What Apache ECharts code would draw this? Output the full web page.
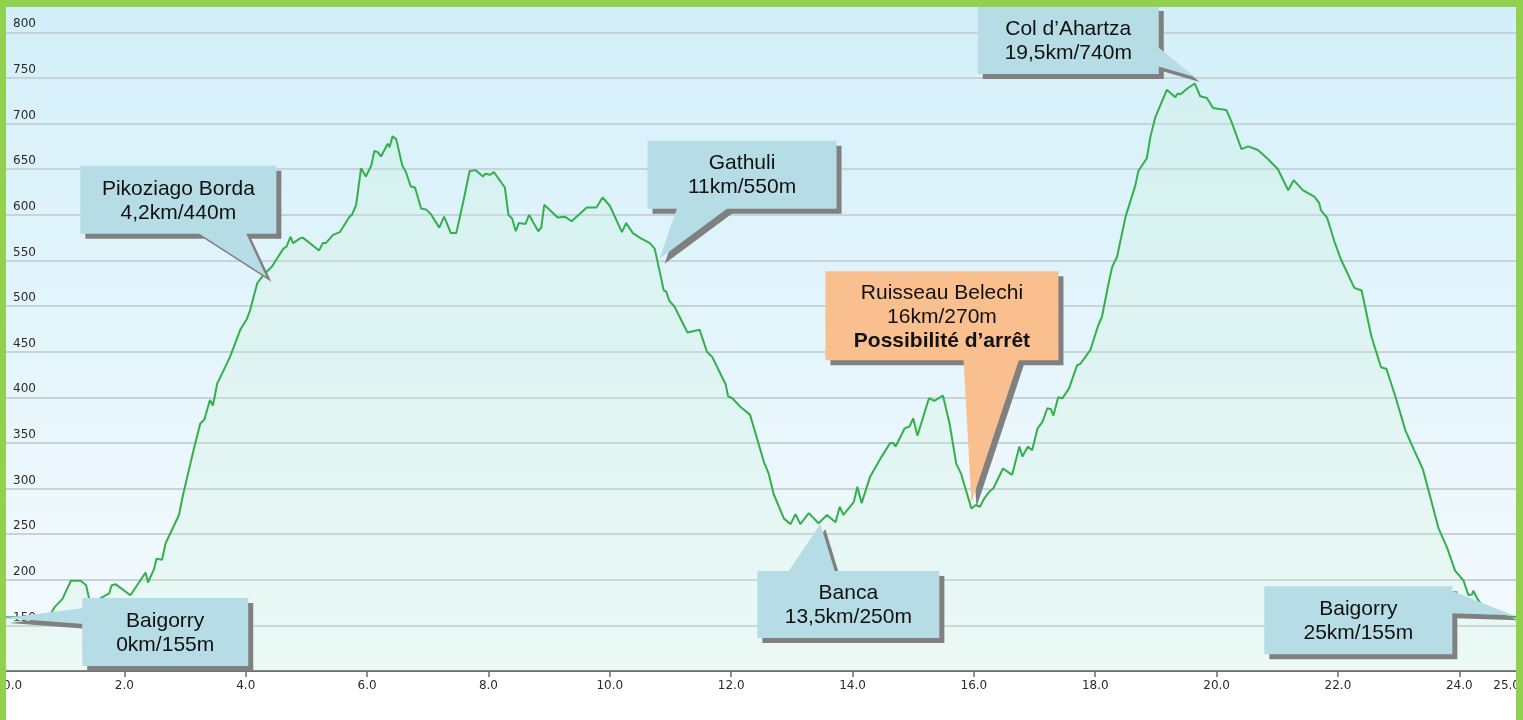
<!DOCTYPE html>
<html>
<head>
<meta charset="utf-8">
<title>Profil altimétrique</title>
<script src="https://cdn.jsdelivr.net/npm/echarts@6/dist/echarts.min.js"></script>
<style>
  html, body { margin: 0; padding: 0; background: #fff; }
  #profil { width: 1523px; height: 720px; }
</style>
</head>
<body>
<div id="profil"></div>
<script>
var distances = [0, 0.63, 0.79, 0.85, 0.98, 1.12, 1.28, 1.37, 1.42, 1.51, 1.61, 1.75, 1.79, 1.86, 2.10, 2.35, 2.39, 2.49, 2.53, 2.62,
  2.68, 2.90, 2.97, 3.14, 3.25, 3.32, 3.41, 3.46, 3.53, 3.74, 3.91, 4.02, 4.07, 4.19, 4.29, 4.43, 4.62, 4.67, 4.74, 4.78,
  4.89, 4.94, 5.21, 5.27, 5.32, 5.44, 5.55, 5.71, 5.75, 5.82, 5.90, 5.98, 6.07, 6.12, 6.17, 6.23, 6.34, 6.37, 6.42, 6.48,
  6.58, 6.64, 6.72, 6.79, 6.89, 6.97, 7.05, 7.19, 7.22, 7.27, 7.38, 7.47, 7.59, 7.69, 7.79, 7.91, 7.95, 8.03, 8.09, 8.27,
  8.33, 8.39, 8.45, 8.50, 8.61, 8.67, 8.82, 8.87, 8.92, 9.14, 9.26, 9.37, 9.62, 9.78, 9.88, 10.00, 10.20, 10.27, 10.38, 10.52,
  10.66, 10.74, 10.89, 10.93, 10.98, 11.07, 11.28, 11.48, 11.60, 11.69, 11.91, 11.95, 12.02, 12.16, 12.31, 12.43, 12.54, 12.62, 12.70, 12.87,
  12.98, 13.06, 13.14, 13.28, 13.44, 13.58, 13.72, 13.79, 13.85, 14.02, 14.08, 14.15, 14.29, 14.48, 14.62, 14.67, 14.71, 14.86, 14.94, 15.00,
  15.07, 15.26, 15.35, 15.49, 15.60, 15.71, 15.79, 15.96, 16.03, 16.10, 16.17, 16.26, 16.32, 16.48, 16.63, 16.75, 16.80, 16.89, 16.96, 17.05,
  17.13, 17.21, 17.27, 17.31, 17.39, 17.46, 17.57, 17.70, 17.76, 17.92, 18.05, 18.11, 18.22, 18.28, 18.36, 18.50, 18.66, 18.71, 18.85, 18.91,
  18.99, 19.18, 19.32, 19.36, 19.40, 19.53, 19.64, 19.73, 19.84, 19.94, 20.16, 20.24, 20.41, 20.52, 20.68, 20.85, 21.01, 21.18, 21.27, 21.42,
  21.61, 21.69, 21.72, 21.82, 21.94, 22.05, 22.27, 22.39, 22.55, 22.71, 22.80, 22.95, 23.11, 23.25, 23.40, 23.52, 23.66, 23.80, 23.93, 24.07,
  24.15, 24.21, 24.23, 24.30, 24.37, 24.51, 24.78, 25.00];
var altitudes = [159, 159, 163, 170, 179, 199, 199, 194, 179, 176, 180, 185, 194, 195, 183, 208, 197, 212, 223, 222,
  240, 271, 294, 342, 371, 376, 397, 391, 415, 444, 474, 486, 495, 525, 534, 543, 563, 565, 576, 569,
  574, 575, 561, 569, 569, 578, 581, 598, 600, 611, 651, 642, 654, 670, 669, 664, 678, 674, 686, 683,
  654, 647, 631, 630, 607, 606, 601, 586, 584, 598, 580, 580, 616, 648, 649, 642, 645, 644, 647, 630,
  600, 596, 582, 591, 590, 600, 582, 586, 611, 597, 598, 593, 608, 608, 619, 610, 581, 591, 580, 574,
  569, 563, 517, 516, 506, 499, 471, 474, 450, 444, 414, 401, 399, 389, 381, 354, 329, 316, 294, 267,
  261, 272, 261, 273, 262, 271, 263, 280, 271, 285, 302, 284, 313, 335, 350, 350, 346, 366, 368, 377,
  358, 399, 396, 402, 371, 327, 316, 278, 282, 280, 289, 297, 300, 322, 315, 346, 335, 346, 342, 366,
  373, 388, 387, 380, 400, 399, 410, 435, 437, 452, 479, 488, 525, 543, 554, 598, 632, 648, 662, 686,
  707, 737, 729, 733, 732, 739, 744, 730, 728, 717, 715, 703, 672, 675, 671, 661, 650, 627, 638, 627,
  620, 613, 605, 597, 571, 551, 520, 517, 467, 433, 431, 400, 364, 343, 321, 291, 256, 235, 210, 199,
  183, 184, 188, 179, 172, 165, 160, 159];

// étiquettes des étapes et point visé sur la courbe
var etapeTextes = [
  'Baigorry\n0km/155m',
  'Pikoziago Borda\n4,2km/440m',
  'Gathuli\n11km/550m',
  'Banca\n13,5km/250m',
  'Ruisseau Belechi\n16km/270m\n{g|Possibilité d’arrêt}',
  'Col d’Ahartza\n19,5km/740m',
  'Baigorry\n25km/155m'
];
var etapeKm = [0.02, 4.34, 10.82, 13.47, 15.96, 19.64, 24.89];
var etapeAlt = [158, 532, 552, 261, 285, 751, 161];

// bulles : boite [dx, dy, w, h] et base de la pointe, relatives au point visé (px)
var bulles = [
  { box: [78, -20, 166, 68], base: [[80, -10], [80, 6]], couleur: '#b6dce6' },
  { box: [-186, -111, 196, 68], base: [[-70, -45], [-21, -45]], couleur: '#b6dce6' },
  { box: [-12, -118, 189, 68], base: [[18, -52], [70, -52]], couleur: '#b6dce6' },
  { box: [-63, 47, 182, 67], base: [[-33, 49], [15, 49]], couleur: '#b6dce6' },
  { box: [-146, -231, 233, 89], base: [[-8, -144], [48, -144]], couleur: '#f9bf8f' },
  { box: [-217, -71, 181, 68], base: [[-38, -31], [-38, -11]], couleur: '#b6dce6' },
  { box: [-249, -29, 188, 68], base: [[-63, -25], [-63, -2]], couleur: '#b6dce6' }
];

var ombre = 5;
var police = '"Liberation Sans", Arial, sans-serif';

function renderBulle(params, api) {
  var b = bulles[params.dataIndex];
  var p = api.coord([api.value(0), api.value(1)]);
  var bx = p[0] + b.box[0], by = p[1] + b.box[1];
  var pts = [
    [p[0] + b.base[0][0], p[1] + b.base[0][1]],
    [p[0] + b.base[1][0], p[1] + b.base[1][1]],
    [p[0], p[1]]
  ];
  var ptsOmbre = pts.map(function (q) { return [q[0] + ombre, q[1] + ombre]; });
  return {
    type: 'group',
    children: [
      { type: 'rect', shape: { x: bx + ombre, y: by + ombre, width: b.box[2], height: b.box[3] }, style: { fill: '#808080' } },
      { type: 'polygon', shape: { points: ptsOmbre }, style: { fill: '#808080' } },
      { type: 'polygon', shape: { points: pts }, style: { fill: b.couleur } },
      { type: 'rect', shape: { x: bx, y: by, width: b.box[2], height: b.box[3] }, style: { fill: b.couleur } },
      {
        type: 'text',
        style: {
          text: etapeTextes[params.dataIndex],
          x: bx + b.box[2] / 2,
          y: by + b.box[3] / 2 + 1,
          align: 'center',
          verticalAlign: 'middle',
          fontSize: 21,
          fontFamily: police,
          lineHeight: 24,
          fill: '#111',
          rich: {
            g: { fontSize: 21, fontFamily: police, fontWeight: 'bold', lineHeight: 24, fill: '#111' }
          }
        }
      }
    ]
  };
}

var chart = echarts.init(document.getElementById('profil'));

chart.setOption({
  animation: false,
  backgroundColor: '#fff',
  grid: {
    left: 2,
    width: 1525,   // 25 km finit sous le cadre droit
    top: 5,
    bottom: 49,
    show: true,
    borderWidth: 0,
    backgroundColor: {
      type: 'linear', x: 0, y: 0, x2: 0, y2: 1,
      colorStops: [{ offset: 0, color: '#d3eff9' }, { offset: 1, color: '#f6fbff' }]
    }
  },
  xAxis: {
    type: 'value',
    min: 0,
    max: 25,
    interval: 2,
    axisLine: { show: true, lineStyle: { color: '#6e6e6e', width: 2 } },
    axisTick: { show: true, length: 6, lineStyle: { color: '#6e6e6e', width: 1.5 } },
    splitLine: { show: false },
    axisLabel: {
      margin: 9,
      color: '#2a2a2a',
      fontSize: 12,
      fontFamily: '"DejaVu Sans", Verdana, sans-serif',
      alignMinLabel: 'left',
      alignMaxLabel: 'right',
      formatter: function (v) { return v.toFixed(1); }
    }
  },
  yAxis: {
    type: 'value',
    min: 100,
    max: 830,
    interval: 50,
    axisLine: { show: false },
    axisTick: { show: false },
    splitLine: { show: true, lineStyle: { color: '#c6d4da', width: 2 } },
    axisLabel: {
      inside: true,
      margin: 10,
      align: 'left',
      verticalAlign: 'bottom',
      padding: [0, 0, 2, 0],
      color: '#2a2a2a',
      fontSize: 12,
      fontFamily: '"DejaVu Sans", Verdana, sans-serif',
      showMinLabel: false,
      showMaxLabel: false
    }
  },
  series: [
    {
      type: 'line',
      data: distances.map(function (d, i) { return [d, altitudes[i]]; }),
      showSymbol: false,
      lineStyle: { color: '#33b04b', width: 2 },
      areaStyle: { color: 'rgba(200, 240, 210, 0.3)' },
      z: 2
    },
    {
      type: 'custom',
      coordinateSystem: 'cartesian2d',
      clip: false,
      data: etapeKm.map(function (k, i) { return [k, etapeAlt[i]]; }),
      encode: { x: 0, y: 1 },
      renderItem: renderBulle,
      z: 10
    }
  ],
  // cadre vert
  graphic: [
    { type: 'rect', z: 100, shape: { x: 0, y: 0, width: 1523, height: 7 }, style: { fill: '#92d050' } },
    { type: 'rect', z: 100, shape: { x: 0, y: 0, width: 6, height: 720 }, style: { fill: '#92d050' } },
    { type: 'rect', z: 100, shape: { x: 1516, y: 0, width: 7, height: 720 }, style: { fill: '#92d050' } }
  ]
});
</script>
</body>
</html>
